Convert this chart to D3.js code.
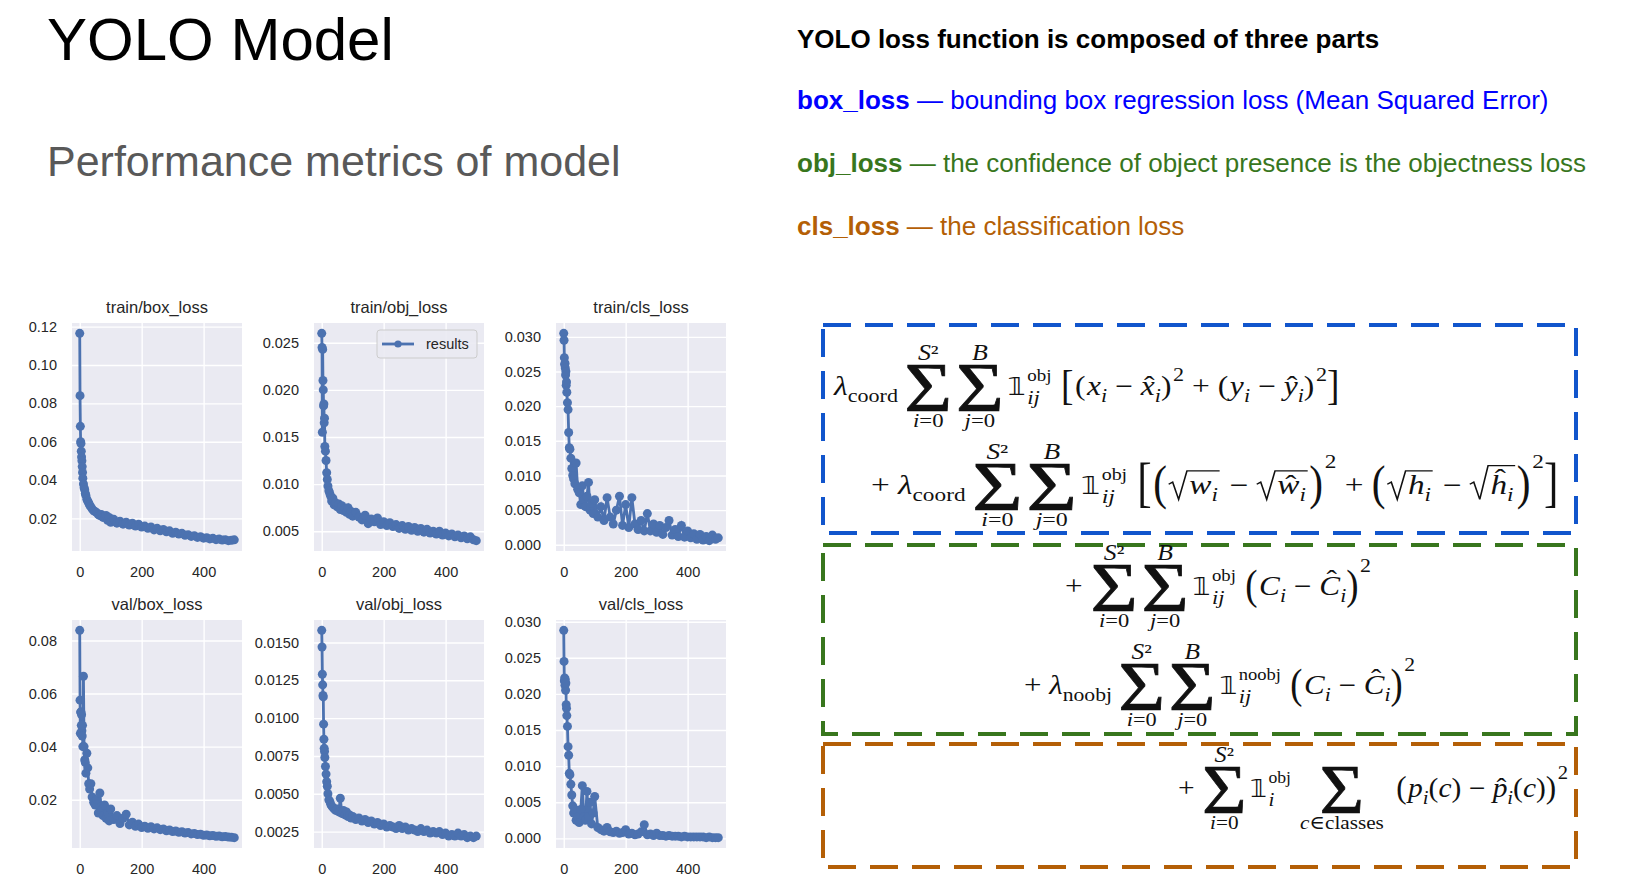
<!DOCTYPE html>
<html>
<head>
<meta charset="utf-8">
<script src="https://cdn.jsdelivr.net/npm/d3@7/dist/d3.min.js"></script>
<style>
  html, body { margin: 0; padding: 0; background: #fff; }
  svg text { font-family: "Liberation Sans", Arial, sans-serif; }
</style>
</head>
<body>
<svg id="slide" width="1648" height="879"></svg>
<script>
// ---- data (epoch -> loss) ----
const epochs = [0,1,2,3,4,5,6,7,8,9,
  10,12,14,16,18,20,23,26,29,32,
  36,40,45,50,55,60,65,70,75,80,
  85,90,95,100,110,120,130,140,150,160,
  170,180,190,200,210,220,230,240,250,260,
  270,280,290,300,310,320,330,340,350,360,
  370,380,390,400,410,420,430,440,450,460,
  470,480,490,499];

const trainBox = [0.1165,0.084,0.068,0.060,0.059,0.055,0.052,0.050,0.047,0.044,
  0.041,0.038,0.036,0.035,0.033,0.032,0.030,0.029,0.028,0.027,
  0.026,0.025,0.024,0.0235,0.023,0.022,0.0215,0.022,0.0205,0.021,
  0.0215,0.019,0.0205,0.018,0.0195,0.0175,0.0185,0.017,0.018,0.0165,
  0.0175,0.016,0.017,0.0155,0.016,0.0148,0.0155,0.014,0.0148,0.0135,
  0.0142,0.013,0.0135,0.0122,0.0128,0.0118,0.0122,0.0112,0.0115,0.0106,
  0.011,0.0101,0.0104,0.0097,0.0099,0.0093,0.0096,0.0089,0.0092,0.0087,
  0.0089,0.0084,0.0086,0.0088];

const trainObj = [0.0260,0.0245,0.0155,0.0243,0.0210,0.0200,0.0183,0.0185,0.0165,0.0170,
  0.0140,0.0135,0.0125,0.0112,0.0105,0.0098,0.0093,0.0090,0.0087,0.0082,
  0.0085,0.0078,0.0080,0.0076,0.0079,0.0073,0.0077,0.0072,0.0074,0.0070,
  0.0075,0.0068,0.0071,0.0066,0.0070,0.0065,0.0062,0.0067,0.0058,0.0063,
  0.0060,0.0064,0.0057,0.0060,0.0056,0.0059,0.0055,0.0057,0.0053,0.0056,
  0.0052,0.0055,0.0051,0.0054,0.0050,0.0053,0.0049,0.0052,0.0048,0.0050,
  0.0047,0.0050,0.0046,0.0048,0.0045,0.0047,0.0044,0.0046,0.0043,0.0045,
  0.0042,0.0044,0.0041,0.0040];

const trainCls = [0.0305,0.0295,0.0270,0.0260,0.0262,0.0255,0.0245,0.0250,0.0230,0.0235,
  0.0220,0.0205,0.0195,0.0162,0.0140,0.0138,0.0125,0.0110,0.0100,0.0095,
  0.0088,0.0118,0.0080,0.0075,0.0058,0.0085,0.0065,0.0055,0.0070,0.0090,
  0.0050,0.0060,0.0045,0.0065,0.0040,0.0055,0.0035,0.0068,0.0040,0.0030,
  0.0050,0.0070,0.0028,0.0058,0.0025,0.0068,0.0030,0.0022,0.0035,0.0020,
  0.0045,0.0020,0.0030,0.0018,0.0028,0.0015,0.0025,0.0035,0.0014,0.0022,
  0.0012,0.0028,0.0011,0.0020,0.0010,0.0016,0.0008,0.0015,0.0007,0.0012,
  0.0006,0.0014,0.0008,0.0010];

const valBox = [0.0838,0.0575,0.0450,0.0530,0.0530,0.0480,0.0520,0.0460,0.0440,0.0480,
  0.0400,0.0665,0.0400,0.0350,0.0340,0.0300,0.0375,0.0320,0.0260,0.0240,
  0.0260,0.0210,0.0190,0.0180,0.0200,0.0150,0.0225,0.0160,0.0140,0.0180,
  0.0130,0.0150,0.0120,0.0165,0.0125,0.0140,0.0110,0.0130,0.0145,0.0105,
  0.0115,0.0100,0.0108,0.0095,0.0100,0.0092,0.0098,0.0090,0.0094,0.0087,
  0.0090,0.0083,0.0086,0.0080,0.0082,0.0077,0.0079,0.0074,0.0076,0.0071,
  0.0073,0.0069,0.0070,0.0066,0.0067,0.0064,0.0065,0.0062,0.0063,0.0060,
  0.0061,0.0059,0.0058,0.0057];

const valObj = [0.0158,0.0147,0.0129,0.0122,0.0115,0.0114,0.0096,0.0086,0.0080,0.0078,
  0.0074,0.0068,0.0063,0.0058,0.0055,0.0050,0.0046,0.0045,0.0043,0.0042,
  0.0041,0.0040,0.0039,0.0040,0.0038,0.0047,0.0037,0.0039,0.0036,0.0038,
  0.0035,0.0036,0.0034,0.0035,0.0033,0.0034,0.0032,0.0033,0.0031,0.0032,
  0.0030,0.0031,0.0029,0.0030,0.0028,0.0029,0.0028,0.0027,0.0029,0.0027,
  0.0028,0.0026,0.0027,0.0026,0.0025,0.0027,0.0025,0.0026,0.0024,0.0025,
  0.0024,0.0025,0.0023,0.0024,0.0022,0.0023,0.0022,0.0024,0.0022,0.0023,
  0.0021,0.0022,0.0021,0.0022];

const valCls = [0.0288,0.0245,0.0218,0.0222,0.0212,0.0220,0.0205,0.0215,0.0185,0.0180,
  0.0170,0.0155,0.0127,0.0115,0.0090,0.0088,0.0075,0.0060,0.0045,0.0035,
  0.0040,0.0025,0.0030,0.0022,0.0040,0.0073,0.0030,0.0025,0.0065,0.0030,
  0.0050,0.0020,0.0035,0.0058,0.0015,0.0012,0.0010,0.0015,0.0009,0.0008,
  0.0010,0.0007,0.0008,0.0012,0.0006,0.0007,0.0005,0.0006,0.0009,0.0019,
  0.0005,0.0006,0.0004,0.0007,0.0004,0.0004,0.0003,0.0004,0.0003,0.0003,
  0.0003,0.0002,0.0003,0.0002,0.0002,0.0002,0.0002,0.0002,0.0002,0.0001,
  0.0002,0.0001,0.0001,0.0001];

const panelTitles = ["train/box_loss", "train/obj_loss", "train/cls_loss",
                     "val/box_loss", "val/obj_loss", "val/cls_loss"];
const yTicksTrainBox = [0.02, 0.04, 0.06, 0.08, 0.10, 0.12];
const yTicksTrainObj = [0.005, 0.010, 0.015, 0.020, 0.025];
const yTicksTrainCls = [0, 0.005, 0.010, 0.015, 0.020, 0.025, 0.030];
const yTicksValBox = [0.02, 0.04, 0.06, 0.08];
const yTicksValObj = [0.0025, 0.0050, 0.0075, 0.0100, 0.0125, 0.0150];
const yTicksValCls = [0, 0.005, 0.010, 0.015, 0.020, 0.025, 0.030];
const xTicks = [0, 200, 400];
const legendLabel = "results";

const svg = d3.select("#slide");
const blue = "#4c72b0";

// ---- the 2x3 grid of loss curves (seaborn darkgrid look) ----
const panels = [
  { values: trainBox, ticks: yTicksTrainBox, fmt: ".2f" },
  { values: trainObj, ticks: yTicksTrainObj, fmt: ".3f", legend: true },
  { values: trainCls, ticks: yTicksTrainCls, fmt: ".3f" },
  { values: valBox,   ticks: yTicksValBox,   fmt: ".2f" },
  { values: valObj,   ticks: yTicksValObj,   fmt: ".4f" },
  { values: valCls,   ticks: yTicksValCls,   fmt: ".3f" }
];
const colX = [72, 314, 556], rowY = [323, 620];
const plotW = 170, plotH = 228;

panels.forEach(function (p, i) {
  const g = svg.append("g")
    .attr("transform", "translate(" + colX[i % 3] + "," + rowY[Math.floor(i / 3)] + ")");

  // matplotlib-style 5% margins
  const xe = d3.extent(epochs), xm = (xe[1] - xe[0]) * 0.05;
  const x = d3.scaleLinear().domain([xe[0] - xm, xe[1] + xm]).range([0, plotW]);
  const ye = d3.extent(p.values), ym = (ye[1] - ye[0]) * 0.05;
  const y = d3.scaleLinear().domain([ye[0] - ym, ye[1] + ym]).range([plotH, 0]);

  g.append("rect").attr("width", plotW).attr("height", plotH).attr("fill", "#eaeaf2");

  const ya = g.append("g")
    .call(d3.axisLeft(y).tickValues(p.ticks).tickFormat(d3.format(p.fmt))
      .tickSize(-plotW).tickSizeOuter(0).tickPadding(15));
  const xa = g.append("g").attr("transform", "translate(0," + plotH + ")")
    .call(d3.axisBottom(x).tickValues(xTicks).tickSize(-plotH).tickSizeOuter(0).tickPadding(16));
  [ya, xa].forEach(function (a) {
    a.select(".domain").remove();
    a.selectAll(".tick line").attr("stroke", "#fff").attr("stroke-width", 1.4);
    a.selectAll(".tick text").attr("fill", "#262626").attr("font-size", 14.5);
  });

  const line = d3.line().x(function (d, k) { return x(epochs[k]); }).y(function (d) { return y(d); });
  g.append("path").datum(p.values).attr("d", line)
    .attr("fill", "none").attr("stroke", blue).attr("stroke-width", 2.8);
  g.selectAll("circle.pt").data(p.values).enter().append("circle")
    .attr("class", "pt")
    .attr("cx", function (d, k) { return x(epochs[k]); })
    .attr("cy", function (d) { return y(d); })
    .attr("r", 4.5).attr("fill", blue);

  g.append("text").attr("x", plotW / 2).attr("y", -10).attr("text-anchor", "middle")
    .attr("font-size", 16.5).attr("fill", "#262626").text(panelTitles[i]);

  if (p.legend) {
    const lg = g.append("g").attr("transform", "translate(" + (plotW - 107) + ",7)");
    lg.append("rect").attr("width", 100).attr("height", 28).attr("rx", 3)
      .attr("fill", "#eaeaf2").attr("fill-opacity", 0.9).attr("stroke", "#cccccc");
    lg.append("line").attr("x1", 5).attr("x2", 37).attr("y1", 14).attr("y2", 14)
      .attr("stroke", blue).attr("stroke-width", 2.8);
    lg.append("circle").attr("cx", 21).attr("cy", 14).attr("r", 3.6).attr("fill", blue);
    lg.append("text").attr("x", 49).attr("y", 19).attr("font-size", 14.5)
      .attr("fill", "#262626").text(legendLabel);
  }
});

// ---- slide titles ----
svg.append("text").attr("x", 47).attr("y", 60).attr("font-size", 60).attr("fill", "#000").text("YOLO Model");
svg.append("text").attr("x", 47).attr("y", 176).attr("font-size", 43).attr("fill", "#595959")
  .text("Performance metrics of model");

svg.append("text").attr("x", 797).attr("y", 48).attr("font-size", 26).attr("font-weight", "bold")
  .attr("fill", "#000").text("YOLO loss function is composed of three parts");

const lossNames = ["box_loss", "obj_loss", "cls_loss"];
const lossDescs = [" — bounding box regression loss (Mean Squared Error)",
                   " — the confidence of object presence is the objectness loss",
                   " — the classification loss"];
const lossColors = ["#0000ff", "#38761d", "#b45f06"];
lossNames.forEach(function (n, i) {
  const t = svg.append("text").attr("x", 797).attr("y", 109 + i * 63).attr("font-size", 26)
    .attr("fill", lossColors[i]);
  t.append("tspan").attr("font-weight", "bold").text(n);
  t.append("tspan").text(lossDescs[i]);
});

// ---- dashed boxes round the loss terms ----
const boxes = [
  { y: 325, h: 208, c: "#1155cc" },
  { y: 545, h: 189, c: "#38761d" },
  { y: 744, h: 123, c: "#b45f06" }
];
boxes.forEach(function (b) {
  svg.append("rect").attr("x", 823).attr("y", b.y).attr("width", 753).attr("height", b.h)
    .attr("fill", "none").attr("stroke", b.c).attr("stroke-width", 4)
    .attr("stroke-dasharray", "28 14");
});

// ---- tiny math typesetter for the loss formula ----
const serif = '"Liberation Serif","DejaVu Serif",serif';
const ink = "#111";
function rich(g, parts, x, y, size, anchor) {
  const t = g.append("text").attr("x", x).attr("y", y).style("font-family", serif)
    .attr("font-size", size).attr("fill", ink);
  if (anchor) t.attr("text-anchor", anchor);
  parts.forEach(function (p) {
    t.append("tspan").attr("font-style", p[1] ? "italic" : "normal").text(p[0]);
  });
  return t;
}
const len = function (t) { return t.node().getComputedTextLength(); };

const Tx = (s, it, k, dy) => (g, x, y, fs) => len(rich(g, [[s, it]], x, y + (dy || 0) * fs, (k || 1) * fs));
const R = (parts) => (g, x, y, fs) => len(rich(g, parts, x, y, fs));
const Sp = k => (g, x, y, fs) => k * fs;
const Op = s => (g, x, y, fs) => len(rich(g, [[s, false]], x + 0.25 * fs, y, fs)) + 0.5 * fs;
const Sub = (s, it) => Tx(s, it === undefined ? true : it, 0.7, 0.27);
const Sup = (s, dy) => Tx(s, false, 0.7, dy || -0.5);
const Del = (s, k) => (g, x, y, fs) => {
  const sx = 1 + (k - 1) * 0.3;
  const t = g.append("text").style("font-family", serif).attr("font-size", fs).attr("fill", ink)
    .attr("transform", "translate(" + x + "," + (y + 0.25 * fs * (k - 1)) + ") scale(" + sx + "," + k + ")")
    .text(s);
  return len(t) * sx + 0.05 * fs;
};
const Sum = (up, low) => (g, x, y, fs) => {
  const s = rich(g, [["Σ", false]], x, y + 0.6 * fs, 2.6 * fs)
    .attr("stroke", ink).attr("stroke-width", 0.7);
  const sw = len(s);
  const u = up.length ? rich(g, up, x, y - 1.3 * fs, 0.82 * fs, "middle") : null;
  const l = rich(g, low, x, y + 1.17 * fs, 0.72 * fs, "middle");
  const w = Math.max(sw, u ? len(u) : 0, len(l));
  s.attr("x", x + (w - sw) / 2);
  if (u) u.attr("x", x + w / 2);
  l.attr("x", x + w / 2);
  return w + 0.12 * fs;
};
const Ind = (sup, sub) => (g, x, y, fs) => {
  const one = g.append("text").attr("x", x).attr("y", y).style("font-family", '"DejaVu Sans",serif')
    .attr("font-size", 0.9 * fs).attr("fill", ink).text("𝟙");
  const ow = len(one) + 0.05 * fs;
  const a = rich(g, [[sup, false]], x + ow, y - 0.5 * fs, 0.6 * fs);
  const b = rich(g, [[sub, true]], x + ow, y + 0.33 * fs, 0.72 * fs);
  return ow + Math.max(len(a), len(b));
};
const Hat = (c, sub, lift) => (g, x, y, fs) => {
  const cw = len(rich(g, [[c, true]], x, y, fs));
  rich(g, [["ˆ", false]], x + cw * 0.6, y - lift * fs, fs, "middle");
  return cw + (sub ? len(rich(g, [[sub, true]], x + cw, y + 0.27 * fs, 0.7 * fs)) : 0);
};
const Sqrt = (items, topK) => (g, x, y, fs) => {
  let cx = x + 0.62 * fs;
  items.forEach(function (f) { cx += f(g, cx, y, fs); });
  const top = y - (topK || 0.86) * fs;
  g.append("path")
    .attr("d", "M" + x + "," + (y - 0.36 * fs) + "L" + (x + 0.12 * fs) + "," + (y - 0.44 * fs) +
      "L" + (x + 0.3 * fs) + "," + (y + 0.2 * fs) + "L" + (x + 0.55 * fs) + "," + top +
      "L" + (cx + 0.05 * fs) + "," + top)
    .attr("fill", "none").attr("stroke", ink).attr("stroke-width", 1.3);
  return cx - x + 0.1 * fs;
};

const S2 = [["S", true], ["²", false]], Bup = [["B", true]];
const I0 = [["i", true], ["=0", false]], J0 = [["j", true], ["=0", false]];
const Ci = [Tx("C", true), Sub("i"), Op("−"), Hat("C", "i", 0.22)];

const formulaRows = [
  { x0: 834, x1: 1341, y: 395, items: [Tx("λ", true), Sub("coord", false), Sp(0.2), Sum(S2, I0), Sum(Bup, J0),
      Ind("obj", "ij"), Sp(0.3), Del("[", 1.6), Del("(", 1), Tx("x", true), Sub("i"), Op("−"), Hat("x", "i", 0),
      Del(")", 1), Sup("2"), Op("+"), Del("(", 1), Tx("y", true), Sub("i"), Op("−"), Hat("y", "i", 0),
      Del(")", 1), Sup("2"), Del("]", 1.6)] },
  { x0: 871, x1: 1560, y: 494, items: [Tx("+", false), Sp(0.25), Tx("λ", true), Sub("coord", false), Sp(0.2),
      Sum(S2, I0), Sum(Bup, J0), Ind("obj", "ij"), Sp(0.3), Del("[", 2), Del("(", 1.8),
      Sqrt([Tx("w", true), Sub("i")]), Op("−"), Sqrt([Hat("w", "i", 0)]), Del(")", 1.8), Sup("2", -0.95),
      Op("+"), Del("(", 1.8), Sqrt([Tx("h", true), Sub("i")]), Op("−"), Sqrt([Hat("h", "i", 0.22)], 1.05),
      Del(")", 1.8), Sup("2", -0.95), Del("]", 2)] },
  { x0: 1065, x1: 1371, y: 595, items: [Tx("+", false), Sp(0.25), Sum(S2, I0), Sum(Bup, J0), Ind("obj", "ij"),
      Sp(0.3), Del("(", 1.6)].concat(Ci, [Del(")", 1.6), Sup("2", -0.85)]) },
  { x0: 1024, x1: 1415, y: 694, items: [Tx("+", false), Sp(0.25), Tx("λ", true), Sub("noobj", false), Sp(0.2),
      Sum(S2, I0), Sum(Bup, J0), Ind("noobj", "ij"), Sp(0.3), Del("(", 1.6)].concat(Ci, [Del(")", 1.6), Sup("2", -0.85)]) },
  { x0: 1178, x1: 1568, y: 797, items: [Tx("+", false), Sp(0.25), Sum(S2, I0), Ind("obj", "i"), Sp(0.3),
      Sum([], [["c", true], ["∈classes", false]]), Sp(0.3), Del("(", 1.2), Tx("p", true), Sub("i"),
      R([["(", false], ["c", true], [")", false]]), Op("−"), Hat("p", "i", 0), R([["(", false], ["c", true], [")", false]]),
      Del(")", 1.2), Sup("2", -0.65)] }
];

const fs = 27;
formulaRows.forEach(function (r) {
  const g = svg.append("g");
  let cx = r.x0;
  r.items.forEach(function (f) { cx += f(g, cx, r.y, fs); });
  const sx = (r.x1 - r.x0) / (cx - r.x0);
  g.attr("transform", "translate(" + r.x0 + ",0) scale(" + sx + ",1) translate(" + (-r.x0) + ",0)");
});
</script>
</body>
</html>
